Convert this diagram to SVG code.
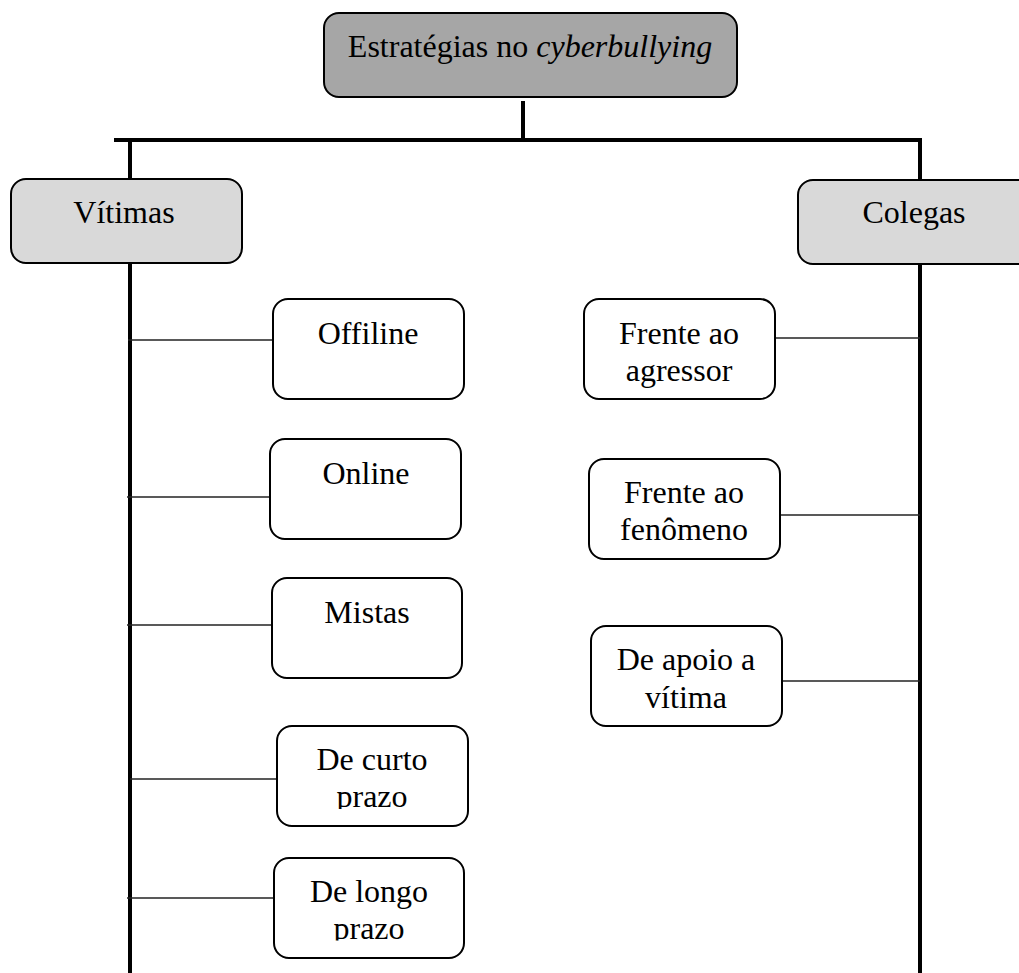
<svg xmlns="http://www.w3.org/2000/svg" width="1019" height="973" viewBox="0 0 1019 973">
<style>
.box{fill:#ffffff;stroke:#000000;stroke-width:2}
.dark{fill:#a6a6a6}
.light{fill:#d9d9d9}
.t{font-family:"Liberation Serif","Times New Roman",serif;font-size:32px;fill:#000000;text-anchor:middle}
.thick{stroke:#000000;stroke-width:4;fill:none}
.thin{stroke:#222222;stroke-width:1.3;fill:none}
</style>
<defs>
<clipPath id="c1"><rect x="270" y="720" width="210" height="89"/></clipPath>
<clipPath id="c2"><rect x="270" y="850" width="210" height="90.5"/></clipPath>
</defs>
<g id="connectors">
<line class="thick" x1="523" y1="101" x2="523" y2="140"/>
<line class="thick" x1="114" y1="140" x2="922" y2="140"/>
<line class="thick" x1="130" y1="138" x2="130" y2="973"/>
<line class="thick" x1="920" y1="138" x2="920" y2="973"/>
<line class="thin" x1="128" y1="340" x2="273" y2="340"/>
<line class="thin" x1="127" y1="497" x2="270" y2="497"/>
<line class="thin" x1="127" y1="625" x2="272" y2="625"/>
<line class="thin" x1="130" y1="779" x2="277" y2="779"/>
<line class="thin" x1="127" y1="898" x2="274" y2="898"/>
<line class="thin" x1="775" y1="338" x2="920" y2="338"/>
<line class="thin" x1="780" y1="515" x2="920" y2="515"/>
<line class="thin" x1="782" y1="681" x2="920" y2="681"/>
</g>
<g id="root">
<rect class="box dark" x="324" y="13" width="413" height="84" rx="15"/>
<text class="t" x="530" y="57">Estratégias no <tspan font-style="italic">cyberbullying</tspan></text>
</g>
<g id="vitimas">
<rect class="box light" x="11" y="179" width="231" height="84" rx="15"/>
<text class="t" x="124" y="223">Vítimas</text>
</g>
<g id="colegas">
<rect class="box light" x="798" y="180" width="240" height="84" rx="15"/>
<text class="t" x="914" y="223">Colegas</text>
</g>
<g id="offiline">
<rect class="box" x="273" y="299" width="191" height="100" rx="15"/>
<text class="t" x="368" y="344">Offiline</text>
</g>
<g id="online">
<rect class="box" x="270" y="439" width="191" height="100" rx="15"/>
<text class="t" x="366" y="484">Online</text>
</g>
<g id="mistas">
<rect class="box" x="272" y="578" width="190" height="100" rx="15"/>
<text class="t" x="367" y="623">Mistas</text>
</g>
<g id="curto">
<rect class="box" x="277" y="726" width="191" height="100" rx="15"/>
<g clip-path="url(#c1)">
<text class="t" x="372" y="770">De curto</text>
<text class="t" x="372" y="807">prazo</text>
</g>
</g>
<g id="longo">
<rect class="box" x="274" y="858" width="190" height="100" rx="15"/>
<g clip-path="url(#c2)">
<text class="t" x="369" y="902">De longo</text>
<text class="t" x="369" y="939">prazo</text>
</g>
</g>
<g id="agressor">
<rect class="box" x="584" y="299" width="191" height="100" rx="15"/>
<text class="t" x="679" y="344">Frente ao</text>
<text class="t" x="679" y="381">agressor</text>
</g>
<g id="fenomeno">
<rect class="box" x="589" y="459" width="191" height="100" rx="15"/>
<text class="t" x="684" y="503">Frente ao</text>
<text class="t" x="684" y="540">fenômeno</text>
</g>
<g id="apoio">
<rect class="box" x="591" y="626" width="191" height="100" rx="15"/>
<text class="t" x="686" y="670">De apoio a</text>
<text class="t" x="686" y="708">vítima</text>
</g>
</svg>
